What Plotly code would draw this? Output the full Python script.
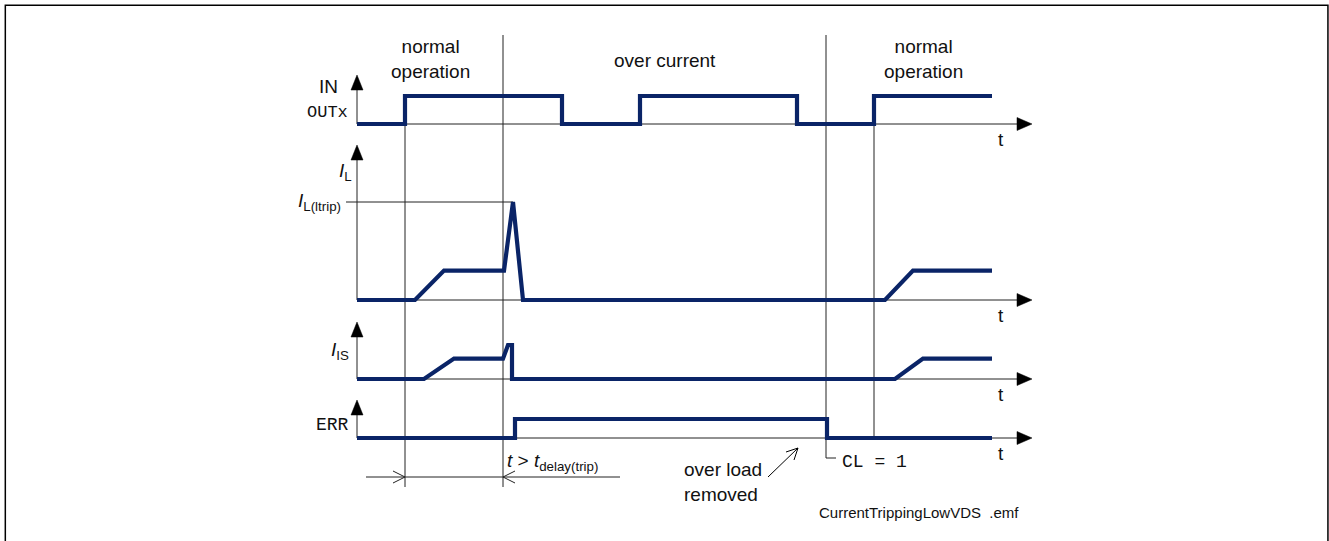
import plotly.graph_objects as go

# ---------------- data (time in diagram units, levels normalised) ----------------
outx_t = [357, 405, 405, 562, 562, 640, 640, 797, 797, 874, 874, 992]
outx_v = [0, 0, 1, 1, 0, 0, 1, 1, 0, 0, 1, 1]

il_t = [357, 415, 444, 504, 513, 523, 885, 913, 992]
il_v = [0, 0, 0.3, 0.3, 1.0, 0, 0, 0.3, 0.3]

is_t = [357, 424, 454, 503, 508, 512, 512, 895, 923, 992]
is_v = [0, 0, 0.6, 0.6, 1.0, 1.0, 0, 0, 0.6, 0.6]

err_t = [357, 515, 515, 827, 827, 992]
err_v = [0, 0, 1, 1, 0, 0]

event_t = [405, 503, 826, 874]
phase_labels = ["normal<br>operation", "over current", "normal<br>operation"]

# ---------------- layout geometry ----------------
T0, T_END = 357, 1032
channels = {
    "OUTx": dict(base=124, scale=28, top=75),
    "IL": dict(base=300, scale=98, top=145),
    "IS": dict(base=379, scale=34, top=322),
    "ERR": dict(base=438, scale=19, top=400),
}
waves = {"OUTx": (outx_t, outx_v), "IL": (il_t, il_v), "IS": (is_t, is_v), "ERR": (err_t, err_v)}

NAVY = "#0a2467"
THIN = "#222222"
SANS = "Liberation Sans, Arial, sans-serif"
MONO = "Courier New, Liberation Mono, monospace"

fig = go.Figure()
shapes = []
annotations = []


def line(x0, y0, x1, y1, color=THIN, width=1, layer="below"):
    shapes.append(dict(type="line", xref="x", yref="y", x0=x0, y0=y0, x1=x1, y1=y1,
                       line=dict(color=color, width=width), layer=layer))


def tri(points, color="black"):
    path = "M " + " L ".join(f"{x},{y}" for x, y in points) + " Z"
    shapes.append(dict(type="path", xref="x", yref="y", path=path,
                       fillcolor=color, line=dict(color=color, width=0.5), layer="above"))


def text(x, y, s, size=19, family=SANS, xanchor="center", yanchor="middle", align="center"):
    annotations.append(dict(x=x, y=y, xref="x", yref="y", text=s, showarrow=False,
                            font=dict(family=family, size=size, color="#111111"),
                            xanchor=xanchor, yanchor=yanchor, align=align))


# frame
shapes.append(dict(type="rect", xref="paper", yref="paper", x0=0.004, y0=-0.01, x1=0.9992, y1=0.9905,
                   line=dict(color="black", width=1.5), layer="below"))

# axes for each channel
for name, ch in channels.items():
    line(T0, ch["base"], T_END - 12, ch["base"])
    line(T0, ch["base"], T0, ch["top"] + 10)
    tri([(T0, ch["top"]), (T0 - 6, ch["top"] + 15), (T0 + 6, ch["top"] + 15)])
    tri([(T_END, ch["base"]), (T_END - 15, ch["base"] - 6.5), (T_END - 15, ch["base"] + 6.5)])
    text(1001, ch["base"] + 15, "t")

# event lines
ev_ranges = [(96, 487), (35, 487), (35, 458), (96, 438)]
for t, (ya, yb) in zip(event_t, ev_ranges):
    line(t, ya, t, yb)
# CL = 1 corner
line(event_t[2], 458, event_t[2] + 10, 458)

# IL trip reference line
il = channels["IL"]
line(346, il["base"] - il["scale"], il_t[4], il["base"] - il["scale"])

# dimension line with chevrons
line(366, 477, 620, 477)
for xa, xd in [(event_t[0], -12), (event_t[1], 12)]:
    line(xa + xd, 471, xa, 477)
    line(xa + xd, 483, xa, 477)

# "over load removed" pointer arrow (open head)
line(768, 477, 798, 448, color="black")
line(798, 448, 786, 452, color="black")
line(798, 448, 794, 460, color="black")

# waveforms
for name, (ts, vs) in waves.items():
    ch = channels[name]
    ys = [ch["base"] - v * ch["scale"] for v in vs]
    fig.add_trace(go.Scatter(x=ts, y=ys, mode="lines", hoverinfo="skip",
                             line=dict(color=NAVY, width=4.2), showlegend=False))

# phase labels
text(430, 59, phase_labels[0])
text(665, 60, phase_labels[1])
text(923, 59, phase_labels[2])

# signal labels
text(340, 86, "IN", xanchor="right")
text(350, 112, "OUTx", size=17, family=MONO, xanchor="right")
text(354, 172, "<i>I</i><sub>L</sub>", xanchor="right")
text(343, 202, "<i>I</i><sub>L(ltrip)</sub>", xanchor="right")
text(351, 351, "<i>I</i><sub>IS</sub>", xanchor="right")
text(351, 425, "ERR", size=18, family=MONO, xanchor="right")

# bottom annotations
text(505, 462, "<i>t</i> &gt; <i>t</i><sub>delay(trip)</sub>", xanchor="left")
text(840, 462, "CL = 1", size=18, family=MONO, xanchor="left")
text(682, 482, "over load<br>removed", xanchor="left", align="left")
text(817, 512, "CurrentTrippingLowVDS  .emf", size=15, xanchor="left")

fig.update_layout(
    width=1329, height=541, margin=dict(l=0, r=0, t=0, b=0),
    paper_bgcolor="white", plot_bgcolor="white",
    xaxis=dict(range=[0, 1329], visible=False, fixedrange=True),
    yaxis=dict(range=[541, 0], visible=False, fixedrange=True),
    shapes=shapes, annotations=annotations, showlegend=False,
)

fig.write_html("out.html", config={"displayModeBar": False},
               post_script="document.body.style.margin='0';")
